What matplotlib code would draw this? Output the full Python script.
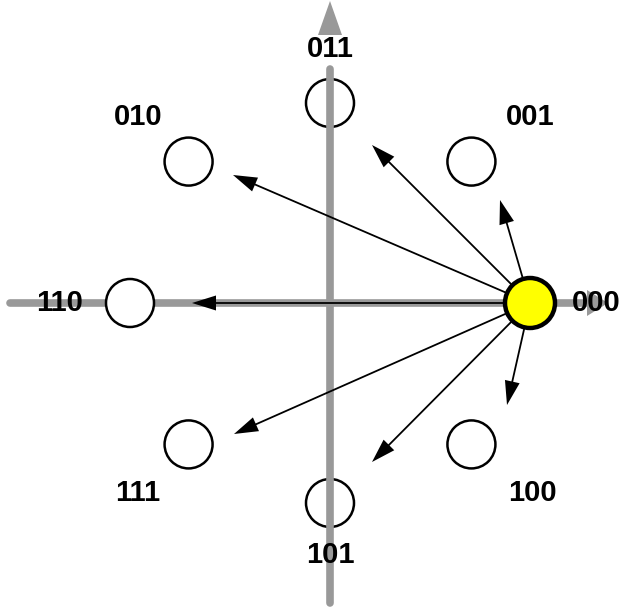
import numpy as np
import matplotlib
matplotlib.use('Agg')
import matplotlib.pyplot as plt
from matplotlib.patches import Circle, FancyArrow

# 8-PSK constellation: symbol labels and phase angles (degrees)
symbols = ['000', '001', '011', '010', '110', '111', '101', '100']
angles = [0, 45, 90, 135, 180, 225, 270, 315]

# label positions in constellation units (relative to the origin)
label_x = [1.33, 1.0, 0.0, -0.96, -1.35, -0.96, 0.0, 1.01]
label_y = [0.0, 0.93, 1.27, 0.93, 0.0, -0.95, -1.26, -0.95]

# transition arrows from 000, tip positions in constellation units
tip_x = [0.85, 0.21, -0.485, -0.69, -0.48, 0.21, 0.885]
tip_y = [0.515, 0.79, 0.64, 0.0, -0.655, -0.795, -0.51]

R = 1.0
scale = 200.0          # pixels per unit
cx, cy = 330.0, 303.0  # origin in pixels

fig = plt.figure(figsize=(6.19, 6.12), dpi=100)
ax = fig.add_axes([0, 0, 1, 1])
ax.set_xlim(-cx / scale, (619 - cx) / scale)
ax.set_ylim(-(612 - cy) / scale, cy / scale)
ax.set_aspect('equal')
ax.axis('off')

gray = '#999999'
px = 1.0 / scale

# a. horizontal axis (below the points)
ax.plot([-1.6, 1.31], [0, 0], color=gray, lw=5.5, solid_capstyle='round', zorder=1)
ax.add_patch(FancyArrow(1.29, 0, 0.1, 0, width=0, head_width=26 * px, head_length=21 * px,
                        length_includes_head=True, color=gray, lw=0, zorder=1))

# b. constellation points (white filled)
for i, ang in enumerate(angles):
    x = R * np.cos(np.radians(ang))
    y = R * np.sin(np.radians(ang))
    if symbols[i] == '000':
        ax.add_patch(Circle((x, y), 25 * px, facecolor='#ffff00', edgecolor='black',
                            lw=3.2, zorder=5))
    else:
        ax.add_patch(Circle((x, y), 24 * px, facecolor='white', edgecolor='black',
                            lw=1.8, zorder=2))

# c. vertical axis (drawn over the points)
ax.plot([0, 0], [-1.5, 1.17], color=gray, lw=5.5, solid_capstyle='round', zorder=3)
ax.add_patch(FancyArrow(0, 1.15, 0, 0.36, width=0, head_width=24 * px, head_length=34 * px,
                        length_includes_head=True, color=gray, lw=0, zorder=3))

# d. transition arrows from 000
x0, y0 = R, 0.0
for tx, ty in zip(tip_x, tip_y):
    ax.add_patch(FancyArrow(x0, y0, tx - x0, ty - y0, width=1.8 * px,
                            head_width=15 * px, head_length=24 * px,
                            length_includes_head=True, color='black', lw=0, zorder=4))

# e. labels
for s, lx, ly in zip(symbols, label_x, label_y):
    ax.text(lx, ly, s, ha='center', va='center', fontsize=21, fontweight='bold',
            family='Liberation Sans', zorder=6)

fig.savefig('out.png', dpi=100, facecolor='white')
